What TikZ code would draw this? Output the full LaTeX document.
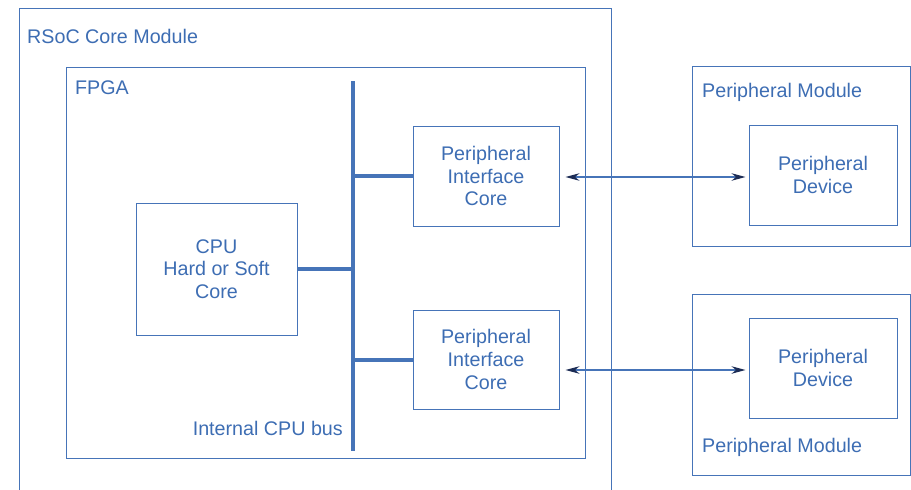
\documentclass[tikz,border=0pt]{standalone}
\usepackage{fontspec}
\setmainfont{Liberation Sans}
\usetikzlibrary{arrows.meta}
\definecolor{bl}{HTML}{4674B8}
\definecolor{tx}{HTML}{3D6DB3}
\definecolor{tipc}{HTML}{1C2C55}
\begin{document}
\begin{tikzpicture}[x=1pt,y=-1pt,
  txt/.style={text=tx, font=\fontsize{19.7}{22.6}\selectfont},
  box/.style={txt, draw=bl, line width=1pt, align=center, inner sep=0pt},
  lbl/.style={txt, inner sep=0pt},
  bus/.style={draw=bl, line width=4pt},
  link/.style={draw=bl, line width=1.2pt,
    {Stealth[length=14pt,width=7.5pt,color=tipc]}-{Stealth[length=14pt,width=7.5pt,color=tipc]}}
]
\useasboundingbox (0,0) rectangle (911,490);
% RSoC core module (bottom edge outside picture)
\draw[draw=bl, line width=0.8pt] (19,490) |- (611,8) -- (611,490);
\node[lbl, anchor=base west] (rsoc) at (27,43) {RSoC Core Module};
% FPGA
\node[box, minimum width=519pt, minimum height=391pt] (fpga) at (325.5,262.5) {};
\node[lbl, anchor=base west] (fpgalbl) at (75,94) {FPGA};
% CPU and interface cores
\node[box, minimum width=161pt, minimum height=132pt] (cpu) at (216.5,269) {CPU\\Hard or Soft\\Core};
\node[box, minimum width=146pt, minimum height=100pt] (pic1) at (486,176) {Peripheral\\Interface\\Core};
\node[box, minimum width=146pt, minimum height=99pt] (pic2) at (486,359.5) {Peripheral\\Interface\\Core};
% bus
\coordinate (bustop) at (353,81);
\coordinate (busbot) at (353,451);
\draw[bus] (bustop) -- (busbot);
\draw[bus] (cpu.east) -- (cpu.east -| bustop);
\draw[bus] (pic1.west -| bustop) -- (pic1.west);
\draw[bus] (pic2.west -| bustop) -- (pic2.west);
\node[lbl, anchor=base east] (buslbl) at (343,435) {Internal CPU bus};
% peripheral modules
\node[box, minimum width=218pt, minimum height=180pt] (mod1) at (801,156) {};
\node[lbl, anchor=base west] (mod1lbl) at (702,97) {Peripheral Module};
\node[box, minimum width=148pt, minimum height=100pt] (dev1) at (823,175) {Peripheral\\Device};
\node[box, minimum width=218pt, minimum height=181pt] (mod2) at (801,384.5) {};
\node[lbl, anchor=base west] (mod2lbl) at (702,452) {Peripheral Module};
\node[box, minimum width=148pt, minimum height=100pt] (dev2) at (823,368) {Peripheral\\Device};
% links
\draw[link] ([shift={(6,1)}]pic1.east) -- ([shift={(-3,1)}]pic1.east -| dev1.west);
\draw[link] ([shift={(6,2)}]pic2.east |- dev2.west) -- ([shift={(-3,2)}]dev2.west);
\end{tikzpicture}
\end{document}
